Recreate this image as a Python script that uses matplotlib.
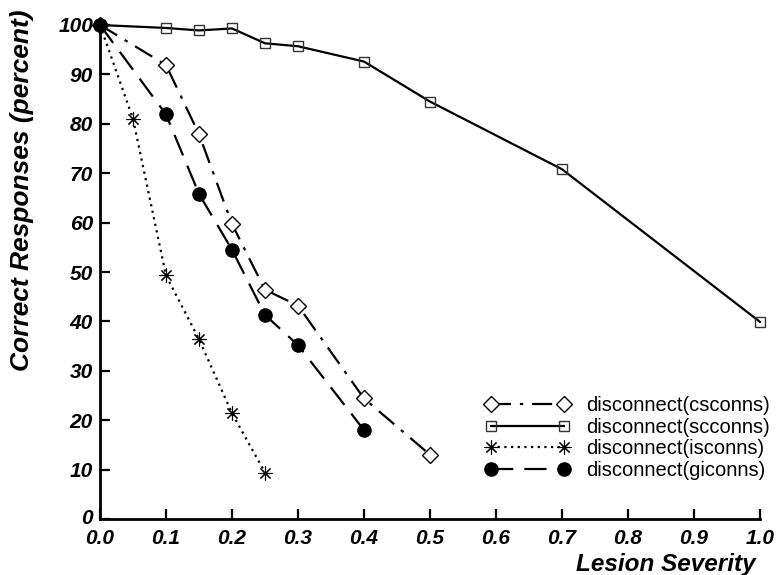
import matplotlib
matplotlib.use("Agg")
import matplotlib.pyplot as plt
from matplotlib.transforms import ScaledTranslation

plt.rcParams['font.family'] = ['Liberation Sans', 'DejaVu Sans']

# Data
cs_x = [0.0, 0.1, 0.15, 0.2, 0.25, 0.3, 0.4, 0.5]
cs_y = [100, 91.9, 77.9, 59.7, 46.4, 43.2, 24.4, 13.0]

sc_x = [0.0, 0.1, 0.15, 0.2, 0.25, 0.3, 0.4, 0.5, 0.7, 1.0]
sc_y = [100, 99.4, 98.9, 99.3, 96.3, 95.7, 92.6, 84.5, 70.8, 39.9]

is_x = [0.0, 0.05, 0.1, 0.15, 0.2, 0.25]
is_y = [100, 81.0, 49.3, 36.4, 21.4, 9.4]

gi_x = [0.0, 0.1, 0.15, 0.2, 0.25, 0.3, 0.4]
gi_y = [100, 81.9, 65.8, 54.5, 41.3, 35.2, 18.0]

labels = ["disconnect(csconns)", "disconnect(scconns)",
          "disconnect(isconns)", "disconnect(giconns)"]
xticks = [0.0, 0.1, 0.2, 0.3, 0.4, 0.5, 0.6, 0.7, 0.8, 0.9, 1.0]
yticks = [0, 10, 20, 30, 40, 50, 60, 70, 80, 90, 100]

fig = plt.figure(figsize=(7.77, 5.75), dpi=100)
ax = fig.add_axes([100/777, 1-519/575, 660/777, 494/575])

lw = 1.6
ax.plot(cs_x, cs_y, color='black', lw=lw, linestyle=(0, (9, 4, 1.5, 4)),
        marker='D', ms=8, mfc='white', mec='black', mew=1.0, clip_on=False,
        label=labels[0])
ax.plot(sc_x, sc_y, color='black', lw=lw, linestyle='-',
        marker='s', ms=7, mfc='none', mec='#333333', mew=1.0, clip_on=False,
        label=labels[1])
ax.plot(is_x, is_y, color='black', lw=lw, linestyle=(0, (1, 2)),
        marker=(8, 2, 0), ms=10, mec='black', mew=0.8, clip_on=False,
        label=labels[2])
ax.plot(gi_x, gi_y, color='black', lw=lw, linestyle=(0, (10, 5)),
        marker='o', ms=9.5, mfc='black', mec='black', clip_on=False,
        label=labels[3])

ax.set_xlim(0, 1.0)
ax.set_ylim(0, 100)
ax.set_xticks(xticks)
ax.set_yticks(yticks)
ax.set_xticklabels([f"{t:.1f}" for t in xticks])
ax.set_yticklabels([str(t) for t in yticks])

for s in ['top', 'right']:
    ax.spines[s].set_visible(False)
for s in ['left', 'bottom']:
    ax.spines[s].set_linewidth(2.0)

ax.tick_params(direction='in', length=7, width=1.6, labelsize=15)
ax.tick_params(axis='x', pad=7)
ax.tick_params(axis='y', pad=5)
for lab in ax.get_xticklabels() + ax.get_yticklabels():
    lab.set_fontweight('bold')
    lab.set_fontstyle('italic')
# nudge the "0" y-label slightly upward, as in the reference
ylab0 = ax.get_yticklabels()[0]
ylab0.set_transform(ylab0.get_transform() + ScaledTranslation(0, 3/100, fig.dpi_scale_trans))

ax.set_xlabel("Lesion Severity", fontsize=17.5, fontweight='bold',
              fontstyle='italic', va='center', ha='center')
ax.xaxis.set_label_coords(0.858, -0.093)
ax.set_ylabel("Correct Responses (percent)", fontsize=19, fontweight='bold',
              fontstyle='italic', va='center', ha='center')
ax.yaxis.set_label_coords(-0.118, 0.666)

leg = ax.legend(loc='center left', bbox_to_anchor=(385/660, (519-438)/494),
                frameon=False, fontsize=14.5, numpoints=2, handlelength=4.2,
                handletextpad=0.8, labelspacing=0.12, borderpad=0, borderaxespad=0)

fig.savefig("out.png", dpi=100)
